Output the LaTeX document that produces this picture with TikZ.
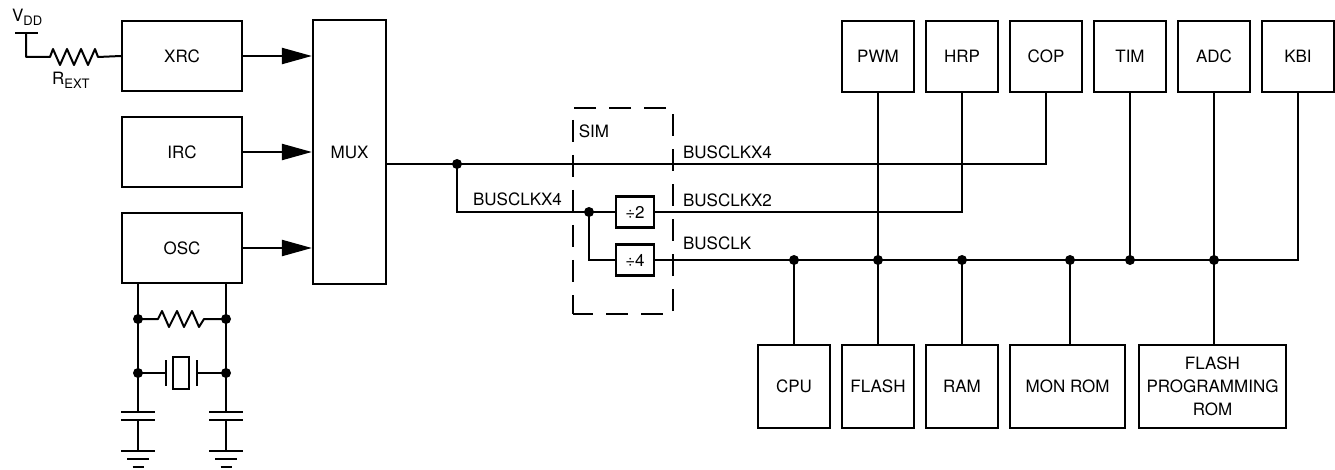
\documentclass[tikz,border=0pt]{standalone}
\usepackage{fontspec}
\setmainfont{TeX Gyre Heros}
\usetikzlibrary{arrows.meta}
\begin{document}
\begin{tikzpicture}[x=1pt,y=-1pt,line width=2.2pt,
  every node/.style={font=\fontsize{17}{23}\selectfont},
  blk/.style={draw,rectangle,inner sep=0pt,align=center},
  leftbox/.style={blk,minimum width=120pt,minimum height=70pt},
  topbox/.style={blk,minimum width=72pt,minimum height=71pt},
  botbox/.style={blk,minimum height=83pt},
  divbox/.style={blk,minimum width=38pt,minimum height=31pt},
  dot/.style={circle,fill,inner sep=0pt,minimum size=10pt},
  lbl/.style={inner sep=0pt},
  arr/.style={-{Triangle[length=30pt,width=16pt]}},
  zig/.style={line join=round,line width=2pt},
  simbox/.style={draw,rectangle,inner sep=0pt,minimum width=100pt,minimum height=206pt,dash pattern=on 22pt off 13pt,dash phase=2pt}]
\useasboundingbox (0,0) rectangle (1335,470);

% ---------- left blocks ----------
\node[leftbox] (xrc) at (182,56) {XRC};
\node[leftbox] (irc) at (182,152) {IRC};
\node[leftbox] (osc) at (182,248) {OSC};
\node[blk,minimum width=73pt,minimum height=264pt] (mux) at (349.5,152) {MUX};
\draw[arr] (xrc.east) -- (xrc.east -| mux.west);
\draw[arr] (irc.east) -- (irc.east -| mux.west);
\draw[arr] (osc.east) -- (osc.east -| mux.west);

% ---------- VDD and REXT ----------
\node[lbl,anchor=base west] (vdd) at (11,22) {V\raisebox{-4pt}{\fontsize{13}{13}\selectfont DD}};
\node[lbl,anchor=base west] (rext) at (51,85) {R\raisebox{-4pt}{\fontsize{13}{13}\selectfont EXT}};
\coordinate (vbl) at (15,33);
\coordinate (vbr) at (38,33);
\coordinate (vtop) at (26,33);
\draw (vbl) -- (vbr);
\draw[zig] (vtop) -- (26,57) -- (50,57) -- (53,49) -- (60,65) -- (67,49) -- (74,65) -- (81,49) -- (88,65) -- (95,49) -- (98,57) -- (xrc.west);

% ---------- crystal network ----------
\coordinate (oL) at (osc.south -| 138,0);
\coordinate (oR) at (osc.south -| 226,0);
\node[dot] (r1) at (138,319) {};
\node[dot] (r2) at (226,319) {};
\node[dot] (c1) at (138,373) {};
\node[dot] (c2) at (226,373) {};
\draw (oL) -- (138,412);
\draw (oR) -- (226,412);
\draw[zig] (r1.center) -- (158,319) -- (162,311) -- (169,327) -- (177,311) -- (184,327) -- (192,311) -- (199,327) -- (204,319) -- (r2.center);
\draw (c1.center) -- (166,373);
\draw (166,360) -- (166,386);
\draw (173,357) rectangle (189,389);
\draw (197,360) -- (197,386);
\draw (197,373) -- (c2.center);
% capacitors and grounds
\foreach \cx in {138,226}{
  \draw (\cx-17,412) -- (\cx+17,412);
  \draw (\cx-17,420) -- (\cx+17,420);
  \draw (\cx,420) -- (\cx,451);
  \draw (\cx-17,451) -- (\cx+17,451);
  \draw (\cx-11,459) -- (\cx+11,459);
  \draw (\cx-5.5,467) -- (\cx+5.5,467);
}

% ---------- SIM ----------
\node[simbox] (sim) at (623,211) {};
\node[lbl] (simlbl) at (594,131) {SIM};
\node[divbox] (div2) at (635,212) {\char"00F7 2};
\node[divbox] (div4) at (635,260) {\char"00F7 4};

% ---------- top peripherals ----------
\node[topbox] (pwm) at (878,56.5) {PWM};
\node[topbox] (hrp) at (962,56.5) {HRP};
\node[topbox] (cop) at (1046,56.5) {COP};
\node[topbox] (tim) at (1130,56.5) {TIM};
\node[topbox] (adc) at (1214,56.5) {ADC};
\node[topbox] (kbi) at (1298,56.5) {KBI};

% ---------- bottom blocks ----------
\node[botbox,minimum width=72pt] (cpu) at (794,386.5) {CPU};
\node[botbox,minimum width=72pt] (flash) at (878,386.5) {FLASH};
\node[botbox,minimum width=72pt] (ram) at (962,386.5) {RAM};
\node[botbox,minimum width=115pt] (monrom) at (1067.5,386.5) {MON ROM};
\node[botbox,minimum width=147pt] (fpr) at (1212.5,386.5) {FLASH\\PROGRAMMING\\ROM};

% ---------- clock wiring ----------
\node[dot] (d1) at (457,164) {};
\node[dot] (d2) at (589,212) {};
\draw (mux.east |- d1) -- (d1.center) -- (d1 -| cop.south) -- (cop.south);
\draw (d1.center) -- (d1.center |- d2) -- (d2.center) -- (div2.west);
\draw (d2.center) -- (d2.center |- div4) -- (div4.west);
\draw (div2.east) -- (div2.east -| hrp.south) -- (hrp.south);
\draw (div4.east) -- (div4.east -| kbi.south) -- (kbi.south);

\node[lbl,anchor=west] (lx4b) at (472,199) {BUSCLKX4};
\node[lbl,anchor=west] (lx4) at (682,152) {BUSCLKX4};
\node[lbl,anchor=west] (lx2) at (682,200) {BUSCLKX2};
\node[lbl,anchor=west] (lx1) at (682,243) {BUSCLK};

% bus dots
\node[dot] (b1) at (794,260) {};
\node[dot] (b2) at (878,260) {};
\node[dot] (b3) at (962,260) {};
\node[dot] (b4) at (1070,260) {};
\node[dot] (b5) at (1130,260) {};
\node[dot] (b6) at (1214,260) {};

\draw (pwm.south) -- (flash.north);
\draw (b1.center) -- (cpu.north);
\draw (b3.center) -- (ram.north);
\draw (b4.center) -- (b4.center |- monrom.north);
\draw (tim.south) -- (b5.center);
\draw (adc.south) -- (b6.center) -- (b6.center |- fpr.north);
\end{tikzpicture}
\end{document}
